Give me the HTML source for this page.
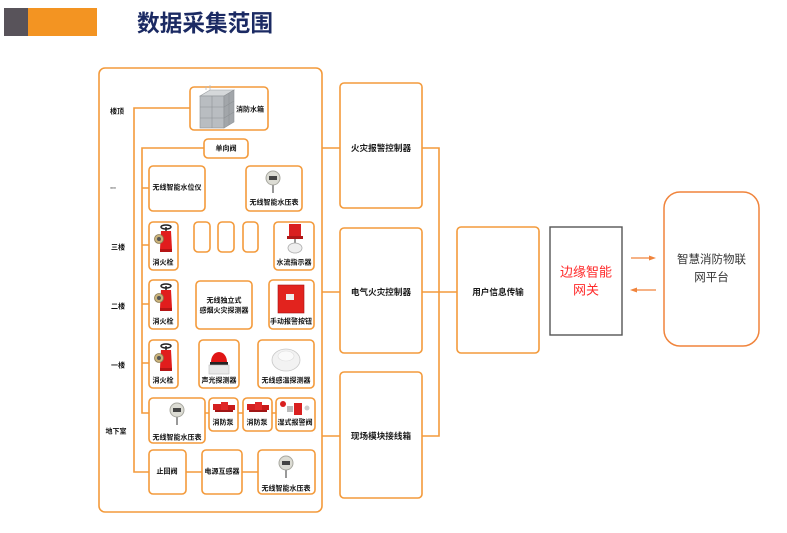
<!DOCTYPE html>
<html><head><meta charset="utf-8"><style>
html,body{margin:0;padding:0;background:#fff;}
svg{display:block;}
text{font-family:"Liberation Sans","Noto Sans CJK SC","WenQuanYi Zen Hei",sans-serif;}
.s{font-size:7px;font-weight:bold;fill:#111;text-anchor:middle;dominant-baseline:central;}
.c{font-size:8.6px;font-weight:bold;fill:#1a1a1a;text-anchor:middle;dominant-baseline:central;}
.b{fill:#fff;stroke:#f39a3b;stroke-width:1.6;}
.l{stroke:#f39a3b;stroke-width:1.6;fill:none;}
</style></head><body>
<svg width="787" height="533" viewBox="0 0 787 533" xmlns="http://www.w3.org/2000/svg">
<defs>
 <g id="hyd">
  <ellipse cx="3" cy="4" rx="5" ry="2" fill="none" stroke="#222" stroke-width="1.4"/>
  <line x1="3" y1="4" x2="3" y2="8" stroke="#222" stroke-width="1.5"/>
  <path d="M-2 8 L8 8 L9 26 L-3 26 Z" fill="#e11d1d"/>
  <circle cx="-4" cy="16" r="4.5" fill="#c9b27a" stroke="#8a7a55" stroke-width="0.8"/>
  <circle cx="-4" cy="16" r="2" fill="#555"/>
  <rect x="-3" y="26" width="12" height="3" fill="#b51515"/>
 </g>
 <g id="gauge">
  <circle cx="0" cy="0" r="7" fill="#dcdcd4" stroke="#a8a8a0" stroke-width="1"/>
  <rect x="-4" y="-2" width="8" height="4" fill="#444"/>
  <rect x="-1" y="7" width="2" height="8" fill="#999"/>
 </g>
 <g id="pump">
  <rect x="0" y="3" width="8" height="6" fill="#d42020"/>
  <rect x="8" y="1" width="7" height="9" fill="#e02828"/>
  <rect x="15" y="4" width="7" height="5" fill="#c81a1a"/>
  <rect x="2" y="9" width="18" height="2" fill="#a01515"/>
 </g>
</defs>

<!-- header -->
<rect x="4" y="8" width="24" height="28" fill="#58535a"/>
<rect x="28" y="8" width="69" height="28" fill="#f39422"/>
<text x="137" y="31" font-size="23" font-weight="bold" fill="#1b2a63" textLength="136" lengthAdjust="spacingAndGlyphs">数据采集范围</text>

<!-- outer box -->
<rect x="99" y="68" width="223" height="444" rx="6" class="b"/>

<!-- floor labels -->
<text class="s" x="117" y="112">楼顶</text>
<text class="s" x="113" y="187">...</text>
<text class="s" x="118" y="248">三楼</text>
<text class="s" x="118" y="307">二楼</text>
<text class="s" x="118" y="366">一楼</text>
<text class="s" x="116" y="432">地下室</text>

<!-- connector lines left -->
<path class="l" d="M190 108 H134 V472 H149"/>
<path class="l" d="M204 148 H142 V413 H149"/>
<path class="l" d="M142 188 H149 M142 245 H149 M142 304 H149 M142 363 H149"/>
<path class="l" d="M186 472 H202 M242 472 H258"/>
<path class="l" d="M205 413 H209 M238 413 H243 M272 413 H276"/>

<!-- tank -->
<rect x="190" y="87" width="78" height="43" rx="4" class="b"/>
<g>
 <path d="M200 96 L224 96 L234 90 L210 90 Z" fill="#d5d8da" stroke="#9a9ea2" stroke-width="0.6"/>
 <rect x="200" y="96" width="24" height="32" fill="#b9bdc1" stroke="#8e9296" stroke-width="0.6"/>
 <path d="M224 96 L234 90 L234 122 L224 128 Z" fill="#a2a6aa" stroke="#8e9296" stroke-width="0.6"/>
 <path d="M212 96 V128 M200 107 H224 M200 118 H224 M229 93 V125 M224 107 L234 101 M224 118 L234 112" stroke="#8e9296" stroke-width="0.6" fill="none"/>
 <path d="M206 90 V86 M210 90 V85" stroke="#bbb" stroke-width="0.8"/>
</g>
<text class="s" x="250" y="110">消防水箱</text>

<!-- 单向阀 -->
<rect x="204" y="139" width="44" height="19" rx="4" class="b"/>
<text class="s" x="226" y="149">单向阀</text>

<!-- ... row -->
<rect x="149" y="166" width="56" height="45" rx="4" class="b"/>
<text class="s" x="177" y="188">无线智能水位仪</text>
<rect x="246" y="166" width="56" height="45" rx="4" class="b"/>
<use href="#gauge" x="273" y="178"/>
<text class="s" x="274" y="203">无线智能水压表</text>

<!-- 三楼 -->
<rect x="149" y="222" width="29" height="48" rx="4" class="b"/>
<use href="#hyd" x="163" y="223"/>
<text class="s" x="163" y="263">消火栓</text>
<rect x="194" y="222" width="16" height="30" rx="4" class="b"/>
<rect x="218" y="222" width="16" height="30" rx="4" class="b"/>
<rect x="243" y="222" width="15" height="30" rx="4" class="b"/>
<rect x="274" y="222" width="40" height="48" rx="4" class="b"/>
<rect x="289" y="224" width="12" height="12" fill="#d92020"/>
<rect x="287" y="236" width="16" height="3" fill="#b01818"/>
<rect x="294" y="239" width="2" height="4" fill="#999"/>
<ellipse cx="295" cy="248" rx="7" ry="5" fill="#eee" stroke="#aaa" stroke-width="0.8"/>
<text class="s" x="294" y="263">水流指示器</text>

<!-- 二楼 -->
<rect x="149" y="280" width="29" height="49" rx="4" class="b"/>
<use href="#hyd" x="163" y="282"/>
<text class="s" x="163" y="322">消火栓</text>
<rect x="196" y="281" width="56" height="48" rx="4" class="b"/>
<text class="s" x="224" y="301">无线独立式</text>
<text class="s" x="224" y="311">感烟火灾探测器</text>
<rect x="269" y="280" width="45" height="49" rx="4" class="b"/>
<rect x="278" y="285" width="26" height="28" fill="#e2231e" stroke="#a81010" stroke-width="0.6"/>
<rect x="286" y="294" width="8" height="6" fill="#eee"/>
<text class="s" x="291" y="322">手动报警按钮</text>

<!-- 一楼 -->
<rect x="149" y="340" width="29" height="48" rx="4" class="b"/>
<use href="#hyd" x="163" y="342"/>
<text class="s" x="163" y="381">消火栓</text>
<rect x="199" y="340" width="40" height="48" rx="4" class="b"/>
<path d="M211 362 A8 10 0 0 1 227 362 Z" fill="#e01515"/>
<rect x="210" y="362" width="18" height="3" fill="#222"/>
<rect x="209" y="365" width="20" height="9" fill="#e8e8e8" stroke="#bbb" stroke-width="0.6"/>
<text class="s" x="219" y="381">声光探测器</text>
<rect x="258" y="340" width="56" height="48" rx="4" class="b"/>
<ellipse cx="286" cy="360" rx="14" ry="11" fill="#f2f2f2" stroke="#c8c8c8" stroke-width="0.8"/>
<ellipse cx="286" cy="356" rx="8" ry="5" fill="#fafafa" stroke="#ddd" stroke-width="0.6"/>
<text class="s" x="286" y="381">无线感温探测器</text>

<!-- 地下室 -->
<rect x="149" y="398" width="56" height="45" rx="4" class="b"/>
<use href="#gauge" x="177" y="410"/>
<text class="s" x="177" y="438">无线智能水压表</text>
<rect x="209" y="398" width="29" height="33" rx="4" class="b"/>
<use href="#pump" x="213" y="401"/>
<text class="s" x="223" y="423">消防泵</text>
<rect x="243" y="398" width="29" height="33" rx="4" class="b"/>
<use href="#pump" x="247" y="401"/>
<text class="s" x="257" y="423">消防泵</text>
<rect x="276" y="398" width="39" height="33" rx="4" class="b"/>
<circle cx="283" cy="404" r="3" fill="#d92020"/>
<rect x="287" y="406" width="6" height="6" fill="#bbb"/>
<rect x="294" y="403" width="8" height="12" fill="#d92020"/>
<circle cx="307" cy="408" r="2.5" fill="#ccc"/>
<text class="s" x="295" y="423">湿式报警阀</text>

<!-- bottom row -->
<rect x="149" y="450" width="37" height="44" rx="4" class="b"/>
<text class="s" x="167" y="472">止回阀</text>
<rect x="202" y="450" width="40" height="44" rx="4" class="b"/>
<text class="s" x="222" y="472">电源互感器</text>
<rect x="258" y="450" width="57" height="44" rx="4" class="b"/>
<use href="#gauge" x="286" y="463"/>
<text class="s" x="286" y="489">无线智能水压表</text>

<!-- controllers -->
<path class="l" d="M322 148 H340 M322 292 H340 M322 436 H340"/>
<path class="l" d="M422 148 H439 V436 H422 M422 292 H457"/>
<rect x="340" y="83" width="82" height="125" rx="4" class="b"/>
<text class="c" x="381" y="148">火灾报警控制器</text>
<rect x="340" y="228" width="82" height="125" rx="4" class="b"/>
<text class="c" x="381" y="292">电气火灾控制器</text>
<rect x="340" y="372" width="82" height="126" rx="4" class="b"/>
<text class="c" x="381" y="436">现场模块接线箱</text>
<rect x="457" y="227" width="82" height="126" rx="4" class="b"/>
<text class="c" x="498" y="292">用户信息传输</text>

<!-- gateway -->
<rect x="550" y="227" width="72" height="108" fill="#fff" stroke="#555" stroke-width="1.4"/>
<text x="586" y="272" font-size="13" fill="#ff2a2a" text-anchor="middle" dominant-baseline="central">边缘智能</text>
<text x="586" y="290" font-size="13" fill="#ff2a2a" text-anchor="middle" dominant-baseline="central">网关</text>

<!-- arrows -->
<line x1="631" y1="258" x2="651" y2="258" stroke="#f0843c" stroke-width="1.3"/>
<path d="M656 258 L649 255.5 L649 260.5 Z" fill="#f0843c"/>
<line x1="635" y1="290" x2="656" y2="290" stroke="#f0843c" stroke-width="1.3"/>
<path d="M630 290 L637 287.5 L637 292.5 Z" fill="#f0843c"/>

<!-- platform -->
<rect x="664" y="192" width="95" height="154" rx="16" fill="#fff" stroke="#f0843c" stroke-width="1.5"/>
<text x="711.5" y="260" font-size="11.5" fill="#333" text-anchor="middle" dominant-baseline="central">智慧消防物联</text>
<text x="711.5" y="278" font-size="11.5" fill="#333" text-anchor="middle" dominant-baseline="central">网平台</text>
</svg>
</body></html>
